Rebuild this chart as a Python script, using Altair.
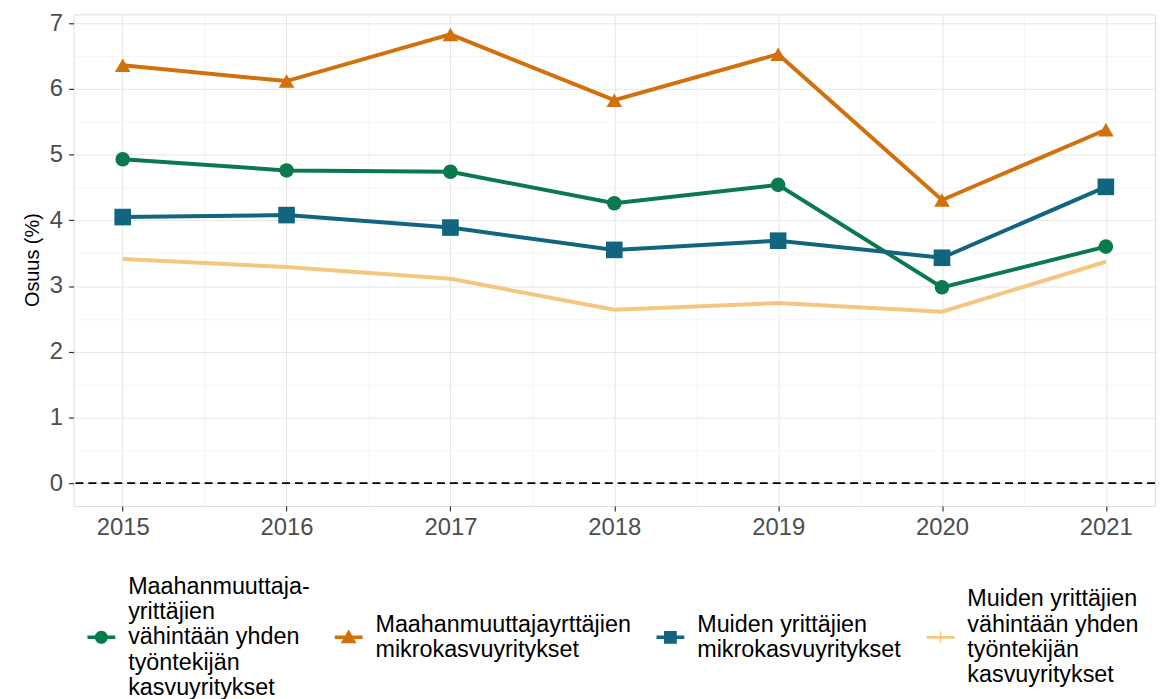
import altair as alt
import pandas as pd

years = [2015, 2016, 2017, 2018, 2019, 2020, 2021]
series_names = [
    "Maahanmuuttaja-|yrittäjien|vähintään yhden|työntekijän|kasvuyritykset",
    "Maahanmuuttajayrttäjien|mikrokasvuyritykset",
    "Muiden yrittäjien|mikrokasvuyritykset",
    "Muiden yrittäjien|vähintään yhden|työntekijän|kasvuyritykset",
]
green_values = [4.93, 4.76, 4.74, 4.26, 4.54, 2.98, 3.60]
orange_values = [6.36, 6.12, 6.83, 5.83, 6.53, 4.31, 5.38]
teal_values = [4.05, 4.08, 3.89, 3.55, 3.69, 3.43, 4.51]
light_values = [3.41, 3.29, 3.11, 2.64, 2.74, 2.61, 3.37]

colors = ["#0A7A4E", "#D2700C", "#12657F", "#F5C67E"]
y_ticks = [0, 1, 2, 3, 4, 5, 6, 7]
y_minor = [0.5, 1.5, 2.5, 3.5, 4.5, 5.5, 6.5]
x_minor = [2015.5, 2016.5, 2017.5, 2018.5, 2019.5, 2020.5]
y_title = "Osuus (%)"

rows = []
for name, vals in zip(series_names, [green_values, orange_values, teal_values, light_values]):
    for yr, v in zip(years, vals):
        rows.append({"year": yr, "value": v, "series": name})
df = pd.DataFrame(rows)
zero_df = pd.DataFrame({"zero": [0]})

FONT = "Liberation Sans"
LEGEND_FS = 23.5
LINE_H = LEGEND_FS + 2
SYM_SIZE = 784
UNIT = (SYM_SIZE ** 0.5) / 2

xs = alt.Scale(domain=[2014.7, 2021.3], nice=False, zero=False)
ys = alt.Scale(domain=[-0.348, 7.136], nice=False, zero=False)
color_scale = alt.Scale(domain=series_names, range=colors)


def bar(s, half=0.125):
    return f"M-1,{s - half:.3f}H1V{s + half:.3f}H-1Z"


def legend_symbol(kind, n_lines):
    s = (n_lines - 1) / 2 * LINE_H / UNIT
    if kind == "circle":
        r = 0.47
        return bar(s) + f" M{r},{s:.3f}A{r},{r} 0 1,1 {-r},{s:.3f}A{r},{r} 0 1,1 {r},{s:.3f}Z"
    if kind == "triangle":
        return bar(s) + f" M0,{s - 0.56:.3f}L0.58,{s + 0.43:.3f}L-0.58,{s + 0.43:.3f}Z"
    if kind == "square":
        return bar(s) + f" M-0.46,{s - 0.46:.3f}H0.46V{s + 0.46:.3f}H-0.46Z"
    return bar(s, 0.1) + f" M-0.05,{s - 0.42:.3f}H0.05V{s + 0.42:.3f}H-0.05Z"


legend_paths = [
    legend_symbol(k, len(name.split("|")))
    for k, name in zip(["circle", "triangle", "square", "cross"], series_names)
]

main_x_axis = alt.Axis(values=years, format="d", title=None, grid=True, gridColor="#E6E6E6",
                       gridWidth=1, domain=False, ticks=True, tickSize=5, tickColor="#333333",
                       tickWidth=1.2, labelFont=FONT, labelFontSize=24, labelColor="#4D4D4D",
                       labelPadding=5)
main_y_axis = alt.Axis(values=y_ticks, format="d", title=None, grid=True, gridColor="#E6E6E6",
                       gridWidth=1, domain=False, ticks=True, tickSize=5, tickColor="#333333",
                       tickWidth=1.2, labelFont=FONT, labelFontSize=24, labelColor="#4D4D4D",
                       labelPadding=6)
minor_x_axis = alt.Axis(values=x_minor, orient="top", title=None, grid=True, gridColor="#F2F2F2",
                        gridWidth=0.8, domain=False, ticks=False, labels=False)
minor_y_axis = alt.Axis(values=y_minor, orient="right", title=None, grid=True, gridColor="#F2F2F2",
                        gridWidth=0.8, domain=False, ticks=False, labels=False)

base = alt.Chart(df)

lines = base.mark_line().encode(
    x=alt.X("year:Q", scale=xs, axis=main_x_axis),
    y=alt.Y("value:Q", scale=ys, axis=main_y_axis),
    color=alt.Color("series:N", scale=color_scale, legend=None),
    strokeWidth=alt.StrokeWidth("series:N", scale=alt.Scale(domain=series_names, range=[4, 4, 4, 3.2]), legend=None),
)

points = base.transform_filter(
    alt.FieldOneOfPredicate(field="series", oneOf=series_names[:3])
).mark_point(filled=True, opacity=1).encode(
    x=alt.X("year:Q", scale=xs, axis=None),
    y=alt.Y("value:Q", scale=ys, axis=None),
    color=alt.Color("series:N", scale=color_scale, legend=None),
    shape=alt.Shape("series:N", scale=alt.Scale(domain=series_names[:3], range=["circle", "triangle-up", "square"]), legend=None),
    size=alt.Size("series:N", scale=alt.Scale(domain=series_names[:3], range=[215, 280, 210]), legend=None),
)

legend_spec = alt.Legend(
    title=None, orient="none", legendX=14, legendY=562, direction="horizontal", columns=4,
    labelExpr="split(datum.label, '|')", labelFont=FONT, labelFontSize=LEGEND_FS, labelColor="black",
    labelLimit=400, labelOffset=13, columnPadding=25, symbolSize=SYM_SIZE, symbolStrokeWidth=0,
    symbolOpacity=1, padding=0,
)

legend_layer = base.transform_filter("false").mark_point(filled=True).encode(
    x=alt.X("year:Q", scale=xs, axis=minor_x_axis),
    y=alt.Y("value:Q", scale=ys, axis=minor_y_axis),
    color=alt.Color("series:N", scale=color_scale, legend=legend_spec),
    shape=alt.Shape("series:N", scale=alt.Scale(domain=series_names, range=legend_paths), legend=legend_spec),
)

zero_rule = alt.Chart(zero_df).mark_rule(color="black", strokeDash=[8, 5], strokeWidth=1.6).encode(
    y=alt.Y("zero:Q", scale=ys, axis=None)
)

chart = alt.layer(legend_layer, lines, zero_rule, points).resolve_scale(
    color="independent", shape="independent", size="independent", strokeWidth="independent"
).resolve_axis(
    x="independent", y="independent"
).properties(
    width=1089, height=495,
    padding={"left": 66, "top": 4, "right": 3, "bottom": 192},
    autosize=alt.AutoSizeParams(type="none"),
    title=alt.Title(y_title, orient="left", anchor="middle", fontSize=20, fontWeight="normal",
                    font=FONT, color="black", offset=6),
).configure_view(
    stroke="#333333", strokeWidth=1.2
).configure(
    background="white"
)

chart.save("out.html", embed_options={"renderer": "svg", "actions": False})
